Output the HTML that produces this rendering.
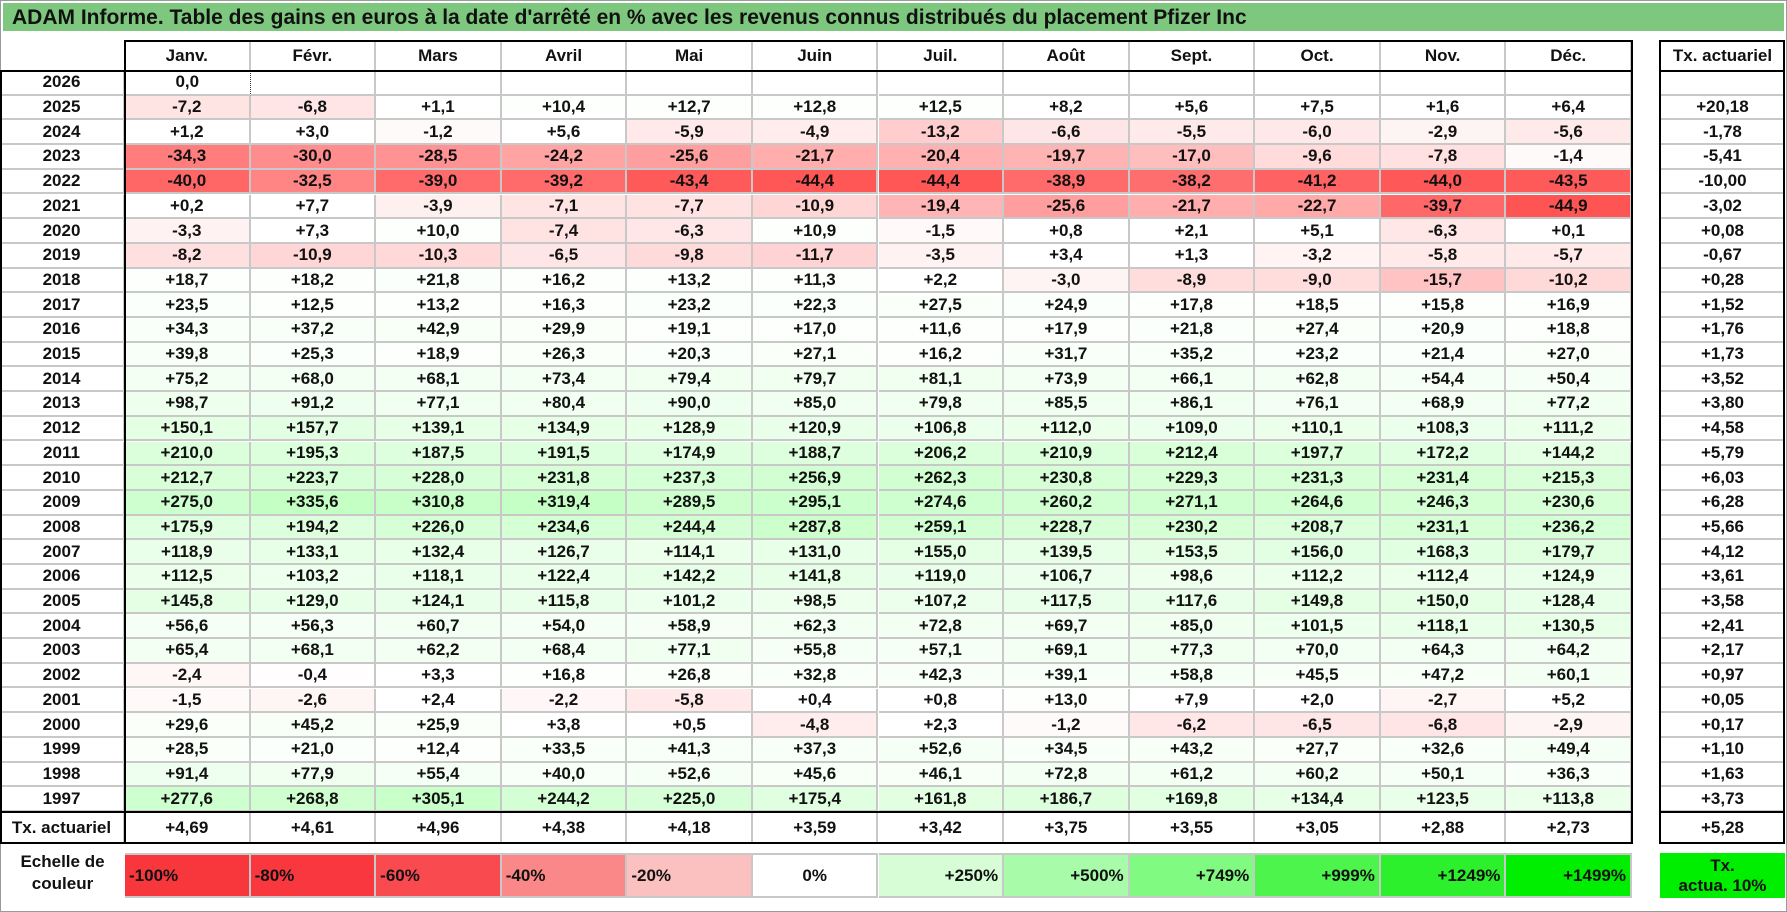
<!DOCTYPE html>
<html><head><meta charset="utf-8">
<style>
body{margin:0;background:#fff;}
#root{position:relative;width:1787px;height:912px;overflow:hidden;background:#fff;font-family:"Liberation Sans",sans-serif;font-weight:bold;color:#111;}
.c{position:absolute;box-sizing:border-box;display:flex;align-items:center;justify-content:center;font-size:17px;border-right:2px solid #c8c8c8;border-bottom:2px solid #c8c8c8;}
.k{position:absolute;background:#000;}
</style></head><body>
<div id="root">
<div style="position:absolute;left:0;top:0;width:1785px;height:910px;border:1px solid #9a9a9a;"></div>
<div style="position:absolute;left:3px;top:3px;width:1781px;height:28px;background:#7ec77e;font-size:21px;line-height:29px;padding-left:9px;box-sizing:border-box;">ADAM Informe. Table des gains en euros à la date d'arrêté en % avec les revenus connus distribués du placement Pfizer Inc</div>
</div>
<script>
const months=["Janv.","Févr.","Mars","Avril","Mai","Juin","Juil.","Août","Sept.","Oct.","Nov.","Déc."];
const years=[2026,2025,2024,2023,2022,2021,2020,2019,2018,2017,2016,2015,2014,2013,2012,2011,2010,2009,2008,2007,2006,2005,2004,2003,2002,2001,2000,1999,1998,1997];
const values=[
[0],
[-7.2,-6.8,1.1,10.4,12.7,12.8,12.5,8.2,5.6,7.5,1.6,6.4],
[1.2,3.0,-1.2,5.6,-5.9,-4.9,-13.2,-6.6,-5.5,-6.0,-2.9,-5.6],
[-34.3,-30.0,-28.5,-24.2,-25.6,-21.7,-20.4,-19.7,-17.0,-9.6,-7.8,-1.4],
[-40.0,-32.5,-39.0,-39.2,-43.4,-44.4,-44.4,-38.9,-38.2,-41.2,-44.0,-43.5],
[0.2,7.7,-3.9,-7.1,-7.7,-10.9,-19.4,-25.6,-21.7,-22.7,-39.7,-44.9],
[-3.3,7.3,10.0,-7.4,-6.3,10.9,-1.5,0.8,2.1,5.1,-6.3,0.1],
[-8.2,-10.9,-10.3,-6.5,-9.8,-11.7,-3.5,3.4,1.3,-3.2,-5.8,-5.7],
[18.7,18.2,21.8,16.2,13.2,11.3,2.2,-3.0,-8.9,-9.0,-15.7,-10.2],
[23.5,12.5,13.2,16.3,23.2,22.3,27.5,24.9,17.8,18.5,15.8,16.9],
[34.3,37.2,42.9,29.9,19.1,17.0,11.6,17.9,21.8,27.4,20.9,18.8],
[39.8,25.3,18.9,26.3,20.3,27.1,16.2,31.7,35.2,23.2,21.4,27.0],
[75.2,68.0,68.1,73.4,79.4,79.7,81.1,73.9,66.1,62.8,54.4,50.4],
[98.7,91.2,77.1,80.4,90.0,85.0,79.8,85.5,86.1,76.1,68.9,77.2],
[150.1,157.7,139.1,134.9,128.9,120.9,106.8,112.0,109.0,110.1,108.3,111.2],
[210.0,195.3,187.5,191.5,174.9,188.7,206.2,210.9,212.4,197.7,172.2,144.2],
[212.7,223.7,228.0,231.8,237.3,256.9,262.3,230.8,229.3,231.3,231.4,215.3],
[275.0,335.6,310.8,319.4,289.5,295.1,274.6,260.2,271.1,264.6,246.3,230.6],
[175.9,194.2,226.0,234.6,244.4,287.8,259.1,228.7,230.2,208.7,231.1,236.2],
[118.9,133.1,132.4,126.7,114.1,131.0,155.0,139.5,153.5,156.0,168.3,179.7],
[112.5,103.2,118.1,122.4,142.2,141.8,119.0,106.7,98.6,112.2,112.4,124.9],
[145.8,129.0,124.1,115.8,101.2,98.5,107.2,117.5,117.6,149.8,150.0,128.4],
[56.6,56.3,60.7,54.0,58.9,62.3,72.8,69.7,85.0,101.5,118.1,130.5],
[65.4,68.1,62.2,68.4,77.1,55.8,57.1,69.1,77.3,70.0,64.3,64.2],
[-2.4,-0.4,3.3,16.8,26.8,32.8,42.3,39.1,58.8,45.5,47.2,60.1],
[-1.5,-2.6,2.4,-2.2,-5.8,0.4,0.8,13.0,7.9,2.0,-2.7,5.2],
[29.6,45.2,25.9,3.8,0.5,-4.8,2.3,-1.2,-6.2,-6.5,-6.8,-2.9],
[28.5,21.0,12.4,33.5,41.3,37.3,52.6,34.5,43.2,27.7,32.6,49.4],
[91.4,77.9,55.4,40.0,52.6,45.6,46.1,72.8,61.2,60.2,50.1,36.3],
[277.6,268.8,305.1,244.2,225.0,175.4,161.8,186.7,169.8,134.4,123.5,113.8]];
const yearRates=[null,20.18,-1.78,-5.41,-10.00,-3.02,0.08,-0.67,0.28,1.52,1.76,1.73,3.52,3.80,4.58,5.79,6.03,6.28,5.66,4.12,3.61,3.58,2.41,2.17,0.97,0.05,0.17,1.10,1.63,3.73];
const monthRates=[4.69,4.61,4.96,4.38,4.18,3.59,3.42,3.75,3.55,3.05,2.88,2.73];
const totalRate=5.28;
const legendLabels=["-100%","-80%","-60%","-40%","-20%","0%","+250%","+500%","+749%","+999%","+1249%","+1499%"];
const legendColors=["#f8373d","#f8383e","#f94a50","#fa8888","#fbc0c0","#ffffff","#d6fdd6","#a8fba8","#80fa80","#4cf44c","#2cf02c","#00ee00"];

const root=document.getElementById('root');
const X0=125,CW=(1632-125)/12,Y0=71,RH=24.7,RX=1660,RW=125;
function fmt(v,d){const s=Math.abs(v).toFixed(d).replace('.',',');return v>0?'+'+s:(v<0?'-'+s:s);}
function heat(v){
  if(v<0){const t=Math.min(1,-v/50);const g=Math.round(255-t*190);return `rgb(255,${g},${g})`;}
  const t=Math.min(1,v/350);const g=Math.round(255-t*62);return `rgb(${g},255,${g})`;
}
function cell(x,y,w,h,txt,bg,extra){
  const d=document.createElement('div');d.className='c';
  d.style.left=x+'px';d.style.top=y+'px';d.style.width=w+'px';d.style.height=h+'px';
  if(bg)d.style.background=bg;d.textContent=txt;if(extra)Object.assign(d.style,extra);
  root.appendChild(d);return d;
}
function line(x,y,w,h,name){const d=document.createElement('div');d.className='k';
  d.style.left=x+'px';d.style.top=y+'px';d.style.width=w+'px';d.style.height=h+'px';
  
  
  root.appendChild(d);}
months.forEach((m,i)=>{const d=cell(X0+i*CW,41,CW,30,m,null,{borderBottom:'none'});
  
  });
const rh=cell(RX,41,RW,30,'Tx. actuariel',null,{borderBottom:'none',borderRight:'none'});


years.forEach((yr,r)=>{
  const y=Y0+r*RH;
  const yc=cell(0,y,X0,RH,String(yr));
  
  
  for(let i=0;i<12;i++){
    const v=values[r][i];
    let txt='',bg='#fff';
    if(v!==undefined){txt=fmt(v,1);bg=v===0?'#fff':heat(v);}
    const d=cell(X0+i*CW,y,CW,RH,txt,bg,(yr===2026)?{borderRight:i===0?'1px dotted #333':'2px solid #c8c8c8'}:null);
    
    
  }
  const rc=cell(RX,y,RW,RH,yearRates[r]===null?'':fmt(yearRates[r],2),'#fff',{borderRight:'none'});
  
  
});
const ty=Y0+30*RH;
const tl=cell(0,ty,X0,843-ty,'Tx. actuariel',null,{borderBottom:'none'});


monthRates.forEach((v,i)=>{const d=cell(X0+i*CW,ty,CW,843-ty,fmt(v,2),null,{borderBottom:'none'});
  
  });
const tr=cell(RX,ty,RW,843-ty,fmt(totalRate,2),null,{borderBottom:'none',borderRight:'none'});


line(X0,40,1632-X0,2,'header-top-border');
line(0,70,1633,2,'header-bottom-border');
line(0,ty-1,1633,2,'rate-row-top-border');
line(0,842,1633,2,'table-bottom-border');
line(0,70,2,774,'table-left-border');
line(X0-1,40,2,804,'year-column-border');
line(1631,40,2,804,'table-right-border');
line(RX-1,40,RW+1,2,'rate-table-top');
line(RX-1,70,RW+1,2,'rate-table-header-bottom');
line(RX-1,ty-1,RW+1,2,'rate-table-total-top');
line(RX-1,842,RW+1,2,'rate-table-bottom');
line(RX-1,40,2,804,'rate-table-left');
line(RX+RW-2,40,2,804,'rate-table-right');
const ll=document.createElement('div');


ll.style.cssText='position:absolute;left:0;top:851px;width:125px;height:50px;text-align:center;font-size:17px;line-height:22px;';
ll.innerHTML='Echelle de<br>couleur';root.appendChild(ll);
legendLabels.forEach((t,i)=>{
  const jc=i<5?'flex-start':(i===5?'center':'flex-end');
  const d=cell(X0+i*CW,853,CW,45,t,legendColors[i],{justifyContent:jc,padding:'0 4px',borderBottom:'2px solid #c8c8c8',borderTop:'2px solid #c8c8c8'});
  
  
});
const lt=cell(RX,853,RW,45,'',"#00ee00",{border:'none',flexDirection:'column',lineHeight:'20px'});
lt.innerHTML='Tx.<br>actua. 10%';lt.style.textAlign='center';


</script>
</body></html>
